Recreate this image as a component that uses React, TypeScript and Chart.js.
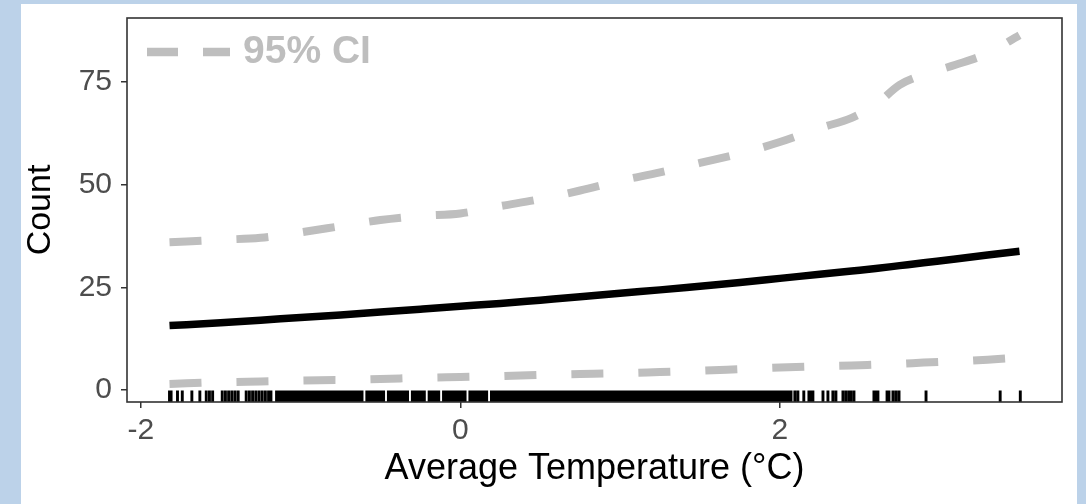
import React, { useEffect, useRef } from "react";
import { Chart, registerables } from "chart.js";

Chart.register(...registerables);

// ---- data ----
const tempX = [-1.82, -1.5, -1.25, -1.0, -0.75, -0.5, -0.25, 0, 0.25, 0.5, 0.75, 1.0, 1.25, 1.5, 1.75, 2.0, 2.25, 2.45, 2.6, 2.75, 2.9, 3.1, 3.3, 3.5];
const meanCount = [15.7, 16.4, 17.0, 17.7, 18.3, 19.0, 19.7, 20.4, 21.1, 21.9, 22.7, 23.6, 24.4, 25.3, 26.2, 27.2, 28.2, 29.0, 29.6, 30.3, 31.0, 31.9, 32.9, 33.8];
const upperCI = [36.0, 36.6, 37.1, 38.4, 39.9, 41.4, 42.4, 43.0, 44.8, 46.5, 48.6, 51.0, 53.0, 55.3, 57.6, 60.4, 63.8, 66.3, 69.5, 74.3, 76.8, 79.2, 82.0, 86.4];
const lowerCI = [1.5, 1.9, 2.1, 2.3, 2.5, 2.7, 3.0, 3.2, 3.4, 3.7, 3.9, 4.1, 4.4, 4.7, 5.1, 5.5, 5.8, 6.0, 6.2, 6.4, 6.7, 7.0, 7.4, 7.9];

const rugTemps = [
  -1.82, -1.81, -1.77, -1.74, -1.68, -1.63, -1.59, -1.57, -1.55,
  -1.49, -1.47, -1.45, -1.43, -1.41, -1.39,
  -1.34, -1.32, -1.30, -1.28, -1.26, -1.24, -1.22, -1.20, -1.185,
  -1.15, -1.135, -1.12, -1.105, -1.09, -1.075, -1.06, -1.045, -1.03, -1.015, -1.0, -0.985, -0.97, -0.955, -0.94, -0.925, -0.91, -0.895, -0.88, -0.865, -0.85, -0.835, -0.82, -0.805, -0.79, -0.775,
  -0.76, -0.745, -0.73, -0.715, -0.70,
  -0.69, -0.675, -0.66, -0.645, -0.63, -0.615, -0.585, -0.57, -0.555, -0.54, -0.525, -0.51, -0.495, -0.48, -0.45, -0.435, -0.42, -0.405, -0.39, -0.375, -0.36, -0.345, -0.33, -0.30, -0.285, -0.27, -0.255, -0.24, -0.225, -0.195, -0.18, -0.165, -0.15, -0.135, -0.105, -0.09, -0.075, -0.06, -0.045, -0.03, -0.015, 0.0, 0.015, 0.03, 0.06, 0.075, 0.09, 0.105, 0.12, 0.135, 0.15, 0.165, 0.195, 0.21, 0.225, 0.24, 0.255, 0.27, 0.285,
  0.30, 0.315, 0.33, 0.345, 0.36, 0.375, 0.39, 0.405, 0.42, 0.435, 0.45, 0.465, 0.48, 0.495, 0.51, 0.525, 0.54, 0.555, 0.57, 0.585, 0.60, 0.615, 0.63, 0.645, 0.66, 0.675, 0.69, 0.705, 0.72, 0.735, 0.75, 0.765, 0.78, 0.795, 0.81, 0.825, 0.84, 0.855, 0.87, 0.885, 0.90, 0.915, 0.93, 0.945, 0.96, 0.975, 0.99, 1.005, 1.02, 1.035, 1.05, 1.065, 1.08, 1.095, 1.11, 1.125, 1.14, 1.155, 1.17, 1.185, 1.20, 1.215, 1.23, 1.245, 1.26, 1.275, 1.29, 1.305, 1.32, 1.335, 1.35, 1.365, 1.38, 1.395, 1.41, 1.425, 1.44, 1.455, 1.47, 1.485, 1.50, 1.515, 1.53, 1.545, 1.56, 1.575, 1.59, 1.605, 1.62, 1.635, 1.65, 1.665, 1.68, 1.695, 1.71, 1.725, 1.74, 1.755, 1.77, 1.785, 1.80, 1.815, 1.83, 1.845, 1.86, 1.875, 1.89, 1.905, 1.92, 1.935, 1.95, 1.965, 1.98, 1.995, 2.01, 2.025, 2.04, 2.055, 2.07,
  2.094, 2.113, 2.15, 2.182, 2.194, 2.207, 2.27, 2.301, 2.332, 2.351, 2.395, 2.414, 2.433, 2.445, 2.464,
  2.589, 2.602, 2.614, 2.671, 2.683, 2.708, 2.727, 2.746, 2.915, 3.379, 3.505,
];

const xTickValues = [-2, 0, 2];
const yTickValues = [0, 25, 50, 75];
const X_MIN = -2.086;
const X_MAX = 3.766;
const Y_MIN = -2.9;
const Y_MAX = 90.6;

const legendLabel = "95% CI";
const xTitle = "Average Temperature (°C)";
const yTitle = "Count";

const FONT = "'Liberation Sans', Arial, Helvetica, sans-serif";
const CI_GREY = "#bebebe";

const rugPlugin = {
  id: "rug",
  afterDatasetsDraw(chart: any) {
    const { ctx, chartArea, scales } = chart;
    const len = (chartArea.bottom - chartArea.top) * 0.03;
    ctx.save();
    ctx.strokeStyle = "#000";
    ctx.lineWidth = 2.9;
    ctx.beginPath();
    for (const v of rugTemps) {
      const px = scales.x.getPixelForValue(v);
      ctx.moveTo(px, chartArea.bottom);
      ctx.lineTo(px, chartArea.bottom - len);
    }
    ctx.stroke();
    ctx.restore();
  },
};

const framePlugin = {
  id: "frame",
  afterDraw(chart: any) {
    const { ctx, chartArea } = chart;
    ctx.save();
    ctx.strokeStyle = "#333333";
    ctx.lineWidth = 1.6;
    ctx.strokeRect(chartArea.left, chartArea.top, chartArea.right - chartArea.left, chartArea.bottom - chartArea.top);
    ctx.restore();
  },
};

const ciLegendPlugin = {
  id: "ciLegend",
  afterDraw(chart: any) {
    const { ctx, chartArea } = chart;
    const y = chartArea.top + 34;
    const x0 = chartArea.left + 20;
    ctx.save();
    ctx.beginPath();
    ctx.rect(x0, y - 10, 83, 20);
    ctx.clip();
    ctx.strokeStyle = CI_GREY;
    ctx.lineWidth = 8.5;
    ctx.lineCap = "butt";
    ctx.setLineDash([31, 25]);
    ctx.beginPath();
    ctx.moveTo(x0, y);
    ctx.lineTo(x0 + 83, y);
    ctx.stroke();
    ctx.restore();
    ctx.save();
    ctx.fillStyle = CI_GREY;
    ctx.font = `bold 39px ${FONT}`;
    ctx.textBaseline = "alphabetic";
    ctx.textAlign = "left";
    ctx.fillText(legendLabel, chartArea.left + 116, chartArea.top + 45);
    ctx.restore();
  },
};

export default function App() {
  const ref = useRef<HTMLCanvasElement>(null);

  useEffect(() => {
    if (!ref.current) return;
    const pts = (ys: number[]) => tempX.map((x, i) => ({ x, y: ys[i] }));
    const chart = new Chart(ref.current, {
      type: "line",
      data: {
        datasets: [
          {
            label: "Lower 95% CI",
            data: pts(lowerCI),
            borderColor: CI_GREY,
            borderWidth: 8,
            borderDash: [32, 35],
            borderCapStyle: "butt",
            pointRadius: 0,
            cubicInterpolationMode: "monotone",
            fill: false,
          },
          {
            label: "Upper 95% CI",
            data: pts(upperCI),
            borderColor: CI_GREY,
            borderWidth: 8,
            borderDash: [32, 35],
            borderCapStyle: "butt",
            pointRadius: 0,
            cubicInterpolationMode: "monotone",
            fill: false,
          },
          {
            label: "Count",
            data: pts(meanCount),
            borderColor: "#000000",
            borderWidth: 7.5,
            borderCapStyle: "butt",
            pointRadius: 0,
            cubicInterpolationMode: "monotone",
            fill: false,
          },
        ],
      },
      options: {
        responsive: false,
        animation: false,
        layout: { padding: { left: 0, top: 14, right: 15, bottom: 0 } },
        plugins: {
          legend: { display: false },
          tooltip: { enabled: false },
        },
        scales: {
          x: {
            type: "linear",
            min: X_MIN,
            max: X_MAX,
            afterBuildTicks: (s: any) => {
              s.ticks = xTickValues.map((v) => ({ value: v }));
            },
            afterFit: (s: any) => {
              s.height = 102;
              s.paddingLeft = 0;
              s.paddingRight = 0;
            },
            grid: { display: true, drawOnChartArea: false, drawTicks: true, tickLength: 6, color: "#333333", lineWidth: 1.5 },
            border: { display: false },
            ticks: {
              autoSkip: false,
              maxRotation: 0,
              padding: 5,
              color: "#4d4d4d",
              font: { family: FONT, size: 30 },
              callback: (v: any) => String(v),
            },
            title: {
              display: true,
              text: xTitle,
              color: "#000000",
              font: { family: FONT, size: 36, lineHeight: 1 },
              padding: { top: 0, bottom: 17 },
            },
          },
          y: {
            type: "linear",
            min: Y_MIN,
            max: Y_MAX,
            afterBuildTicks: (s: any) => {
              s.ticks = yTickValues.map((v) => ({ value: v }));
            },
            afterFit: (s: any) => {
              s.width = 106;
              s.paddingTop = 0;
              s.paddingBottom = 0;
            },
            grid: { display: true, drawOnChartArea: false, drawTicks: true, tickLength: 6, color: "#333333", lineWidth: 1.5 },
            border: { display: false },
            ticks: {
              padding: 9,
              color: "#4d4d4d",
              font: { family: FONT, size: 30 },
              callback: (v: any) => String(v),
            },
            title: {
              display: true,
              text: yTitle,
              color: "#000000",
              font: { family: FONT, size: 34, lineHeight: 1 },
              padding: { top: 3, bottom: 0 },
            },
          },
        },
      },
      plugins: [rugPlugin, framePlugin, ciLegendPlugin],
    } as any);
    return () => chart.destroy();
  }, []);

  return (
    <div style={{ position: "fixed", left: 0, top: 0, width: 1086, height: 504, background: "#bcd2e9", overflow: "hidden" }}>
      <div style={{ position: "absolute", left: 21, top: 4, width: 1056, height: 500, background: "#ffffff" }}>
        <canvas ref={ref} width={1056} height={500} style={{ display: "block" }} />
      </div>
    </div>
  );
}
